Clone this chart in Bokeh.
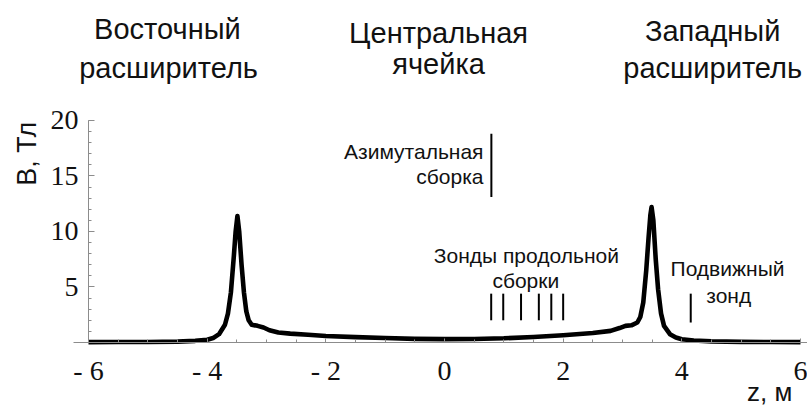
import math
from bokeh.plotting import figure
from bokeh.models import Range1d, FixedTicker
from bokeh.core.properties import value
from bokeh.embed import file_html
from bokeh.resources import INLINE

# ---- data: magnetic field profile B(z) ----
z_m = [-6.0, -5.5, -5.0, -4.5, -4.2, -4.0, -3.9, -3.8, -3.7, -3.65, -3.6, -3.55,
       -3.52, -3.49, -3.46, -3.42, -3.38, -3.34, -3.3, -3.25, -3.15, -3.05, -2.95,
       -2.8, -2.6, -2.3, -2.0, -1.5, -1.0, -0.5, 0.0, 0.5, 1.0, 1.5, 2.0, 2.5, 2.8,
       2.95, 3.05, 3.15, 3.25, 3.3, 3.35, 3.4, 3.44, 3.47, 3.49, 3.52, 3.56, 3.6,
       3.65, 3.7, 3.8, 3.9, 4.0, 4.2, 4.5, 5.0, 5.5, 6.0]
b_tesla = [0.03, 0.04, 0.05, 0.08, 0.15, 0.25, 0.4, 0.75, 1.6, 2.6, 4.5, 7.8,
           10.0, 11.4, 10.0, 7.0, 4.5, 2.8, 2.0, 1.6, 1.5, 1.35, 1.1,
           0.9, 0.8, 0.7, 0.58, 0.48, 0.4, 0.33, 0.3, 0.32, 0.38, 0.5, 0.65, 0.85, 1.05,
           1.3, 1.5, 1.55, 1.8, 2.3, 3.6, 6.5, 9.5, 11.5, 12.2, 11.0, 7.5, 4.8,
           2.6, 1.5, 0.75, 0.45, 0.3, 0.18, 0.1, 0.06, 0.04, 0.03]

# diagnostics positions (vertical bars)
azimuthal_z = [0.79]
azimuthal_b0 = [13.1]
azimuthal_b1 = [18.8]
probe_z = [0.787, 0.99, 1.29, 1.59, 1.80, 2.0]
probe_b0 = [2.0] * 6
probe_b1 = [4.4] * 6
movable_z = [4.15]
movable_b0 = [1.8]
movable_b1 = [4.4]

# tick labels
x_ticks = [-6, -4, -2, 0, 2, 4, 6]
x_tick_labels = ["- 6", "- 4", "- 2", "0", "2", "4", "6"]
x_minor = [i * 0.5 - 6 for i in range(25)]
y_ticks = [5, 10, 15, 20]
y_minor = list(range(0, 21))

# texts (y = vertical middle of the line)
head_text = ["Восточный", "расширитель", "Центральная", "ячейка", "Западный", "расширитель"]
head_x = [-4.67, -4.65, -0.10, -0.10, 4.52, 4.52]
head_y = [28.2, 24.7, 27.9, 25.1, 28.1, 24.7]

az_text = ["Азимутальная", "сборка"]
az_x = [0.657, 0.657]
az_y = [17.24, 14.98]

ann_text = ["Зонды продольной", "сборки", "Подвижный", "зонд"]
ann_x = [1.38, 1.37, 4.77, 4.79]
ann_y = [7.86, 5.6, 6.69, 4.2]

x_label = ["z, м"]
x_label_x = [5.48]
x_label_y = [-4.5]
y_label = ["B, Тл"]
y_label_x = [-7.03]
y_label_y = [17.0]

W, H = 807, 409
p = figure(width=W, height=H, output_backend="svg", toolbar_location=None,
           title=None,
           x_range=Range1d(-7.483, 6.118), y_range=Range1d(-6.036, 30.81),
           min_border=0)
p.outline_line_color = None
p.grid.visible = False
p.background_fill_color = "white"
p.border_fill_color = "white"

axis_col = "#8c8c8c"
for ax in (p.xaxis[0], p.yaxis[0]):
    ax.axis_line_color = axis_col
    ax.major_tick_line_color = axis_col
    ax.minor_tick_line_color = axis_col
    ax.major_tick_out = 0
    ax.minor_tick_out = 0
    ax.major_label_text_font = "Liberation Serif"
    ax.major_label_text_font_size = "28px"
    ax.major_label_text_color = "#111111"

p.xaxis.fixed_location = 0
p.xaxis.bounds = (-6.253, 6.118)
p.xaxis.ticker = FixedTicker(ticks=x_ticks, minor_ticks=x_minor)
p.xaxis.major_label_overrides = {t: s for t, s in zip(x_ticks, x_tick_labels)}
p.xaxis.major_tick_in = 4
p.xaxis.minor_tick_in = 3
p.xaxis.major_label_standoff = 13

p.yaxis.fixed_location = -6
p.yaxis.bounds = (0, 20)
p.yaxis.ticker = FixedTicker(ticks=y_ticks, minor_ticks=y_minor)
p.yaxis.major_tick_in = 6
p.yaxis.minor_tick_in = 3
p.yaxis.major_label_standoff = 10

# curve
p.line(z_m, b_tesla, line_color="black", line_width=4.6, line_join="round")

# diagnostics bars
p.segment(x0=azimuthal_z, y0=azimuthal_b0, x1=azimuthal_z, y1=azimuthal_b1,
          line_color="black", line_width=2)
p.segment(x0=probe_z, y0=probe_b0, x1=probe_z, y1=probe_b1,
          line_color="black", line_width=2)
p.segment(x0=movable_z, y0=movable_b0, x1=movable_z, y1=movable_b1,
          line_color="black", line_width=2)

font = "Liberation Sans"
p.text(x=head_x, y=head_y, text=head_text, text_font=value(font),
       text_font_size="29px", text_align="center", text_baseline="middle",
       text_color="#111111")
p.text(x=az_x, y=az_y, text=az_text, text_font=value(font),
       text_font_size="21px", text_align="right", text_baseline="middle",
       text_color="#111111")
p.text(x=ann_x, y=ann_y, text=ann_text, text_font=value(font),
       text_font_size="21px", text_align="center", text_baseline="middle",
       text_color="#111111")
p.text(x=x_label_x, y=x_label_y, text=x_label, text_font=value(font),
       text_font_size="26px", text_align="center", text_baseline="middle",
       text_color="#111111")
p.text(x=y_label_x, y=y_label_y, text=y_label, text_font=value(font),
       text_font_size="27px", text_align="center", text_baseline="middle",
       angle=math.pi / 2, text_color="#111111")

open("out.html", "w").write(file_html(p, INLINE))
